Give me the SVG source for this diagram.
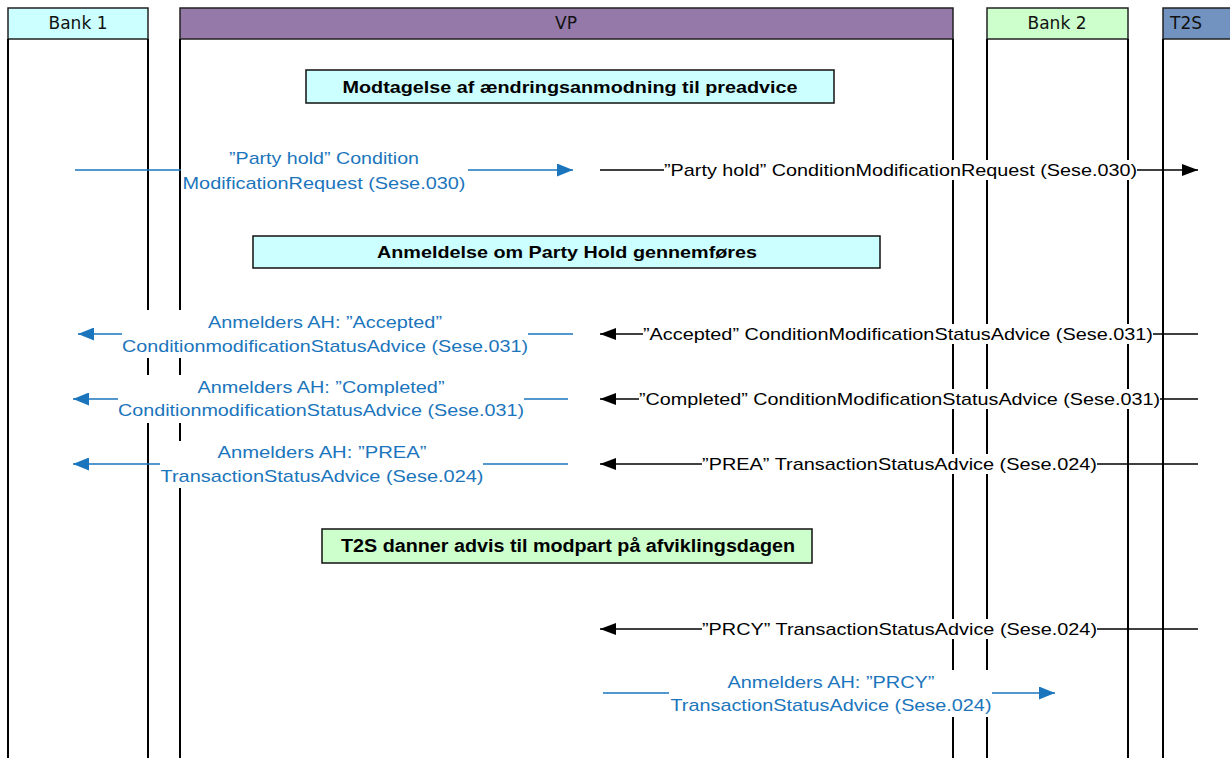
<svg xmlns="http://www.w3.org/2000/svg" width="1230" height="758" viewBox="0 0 1230 758">
<defs>
<style>
.lane{stroke:#000;stroke-width:2;fill:none}
.hdr{stroke:#222;stroke-width:1.5}
.htxt{font-family:"DejaVu Sans",Verdana,sans-serif;font-size:17px;fill:#111;text-anchor:middle;dominant-baseline:central}
.box{stroke:#111;stroke-width:1.5}
.btxt{font-family:"Liberation Sans",Arial,sans-serif;font-weight:bold;font-size:17px;fill:#000;text-anchor:middle;dominant-baseline:central}
.bg{fill:#fff}
.blk{stroke:#000;stroke-width:1.5;fill:none}
.blu{stroke:#1B75BC;stroke-width:1.5;fill:none}
.lt{font-family:"Liberation Sans",Arial,sans-serif;font-size:17px;fill:#000;dominant-baseline:central}
.lb{font-family:"Liberation Sans",Arial,sans-serif;font-size:17px;fill:#1B75BC;dominant-baseline:central}
</style>
<marker id="ab" viewBox="0 0 10 10" refX="10" refY="5" markerWidth="16" markerHeight="12" markerUnits="userSpaceOnUse" orient="auto" preserveAspectRatio="none"><path d="M0,0 L10,5 L0,10 Z" fill="#000"/></marker>
<marker id="au" viewBox="0 0 10 10" refX="10" refY="5" markerWidth="16" markerHeight="13" markerUnits="userSpaceOnUse" orient="auto" preserveAspectRatio="none"><path d="M0,0 L10,5 L0,10 Z" fill="#1B75BC"/></marker>
</defs>
<rect width="1230" height="758" fill="#fff"/>

<g id="lane-bank1">
<rect class="hdr" x="8" y="8" width="140" height="31" fill="#CCFFFF"/>
<text class="htxt" x="78" y="23">Bank 1</text>
<line class="lane" x1="8" y1="39" x2="8" y2="758"/>
<line class="lane" x1="148" y1="39" x2="148" y2="758"/>
</g>
<g id="lane-vp">
<rect class="hdr" x="180" y="8" width="773" height="31" fill="#9479A9"/>
<text class="htxt" x="566" y="23">VP</text>
<line class="lane" x1="180" y1="39" x2="180" y2="758"/>
<line class="lane" x1="953" y1="39" x2="953" y2="758"/>
</g>
<g id="lane-bank2">
<rect class="hdr" x="987" y="8" width="141" height="31" fill="#CCFFCC"/>
<text class="htxt" x="1057" y="23">Bank 2</text>
<line class="lane" x1="987" y1="39" x2="987" y2="758"/>
<line class="lane" x1="1128" y1="39" x2="1128" y2="758"/>
</g>
<g id="lane-t2s">
<rect class="hdr" x="1163" y="8" width="80" height="31" fill="#7293BF"/>
<text class="htxt" x="1186" y="23">T2S</text>
<line class="lane" x1="1163" y1="39" x2="1163" y2="758"/>
</g>

<g id="box-modtagelse">
<rect class="box" x="306" y="70" width="528" height="33" fill="#CCFFFF"/>
<text class="btxt" x="570" y="87" textLength="455" lengthAdjust="spacingAndGlyphs">Modtagelse af ændringsanmodning til preadvice</text>
</g>
<g id="box-anmeldelse">
<rect class="box" x="253" y="236" width="627" height="32" fill="#CCFFFF"/>
<text class="btxt" x="567" y="252" textLength="380" lengthAdjust="spacingAndGlyphs">Anmeldelse om Party Hold gennemføres</text>
</g>
<g id="box-t2s-danner">
<rect class="box" x="322" y="529" width="490" height="34" fill="#CCFFCC"/>
<text class="btxt" x="568" y="546" style="font-size:18px" textLength="454" lengthAdjust="spacingAndGlyphs">T2S danner advis til modpart på afviklingsdagen</text>
</g>

<g id="connectors">
<rect class="bg" x="181" y="146" width="287" height="48"/>
<rect class="bg" x="663" y="160" width="476" height="20"/>
<rect class="bg" x="120" y="310" width="410" height="48"/>
<rect class="bg" x="641" y="324" width="514" height="20"/>
<rect class="bg" x="116" y="375" width="410" height="48"/>
<rect class="bg" x="637" y="389" width="525" height="20"/>
<rect class="bg" x="158" y="441" width="327" height="47"/>
<rect class="bg" x="700" y="454" width="399" height="20"/>
<rect class="bg" x="700" y="619" width="399" height="20"/>
<rect class="bg" x="669" y="670" width="325" height="47"/>

<line class="blu" x1="75" y1="170" x2="181" y2="170"/>
<line class="blu" x1="468" y1="170" x2="573" y2="170" marker-end="url(#au)"/>
<text class="lb" x="324" y="158" text-anchor="middle" textLength="190" lengthAdjust="spacingAndGlyphs">”Party hold” Condition</text>
<text class="lb" x="324" y="183" text-anchor="middle" textLength="283" lengthAdjust="spacingAndGlyphs">ModificationRequest (Sese.030)</text>

<line class="blk" x1="600" y1="170" x2="664" y2="170"/>
<line class="blk" x1="1137" y1="170" x2="1198" y2="170" marker-end="url(#ab)"/>
<text class="lt" x="664" y="170" textLength="473" lengthAdjust="spacingAndGlyphs">”Party hold” ConditionModificationRequest (Sese.030)</text>

<line class="blk" x1="1198" y1="334" x2="1153" y2="334"/>
<line class="blk" x1="643" y1="334" x2="600" y2="334" marker-end="url(#ab)"/>
<text class="lt" x="643" y="334" textLength="510" lengthAdjust="spacingAndGlyphs">”Accepted” ConditionModificationStatusAdvice (Sese.031)</text>

<line class="blu" x1="573" y1="334" x2="528" y2="334"/>
<line class="blu" x1="122" y1="334" x2="78" y2="334" marker-end="url(#au)"/>
<text class="lb" x="325" y="322" text-anchor="middle" textLength="234" lengthAdjust="spacingAndGlyphs">Anmelders AH: ”Accepted”</text>
<text class="lb" x="325" y="346" text-anchor="middle" textLength="406" lengthAdjust="spacingAndGlyphs">ConditionmodificationStatusAdvice (Sese.031)</text>

<line class="blk" x1="1198" y1="399" x2="1160" y2="399"/>
<line class="blk" x1="639" y1="399" x2="600" y2="399" marker-end="url(#ab)"/>
<text class="lt" x="639" y="399" textLength="521" lengthAdjust="spacingAndGlyphs">”Completed” ConditionModificationStatusAdvice (Sese.031)</text>

<line class="blu" x1="568" y1="399" x2="524" y2="399"/>
<line class="blu" x1="118" y1="399" x2="73" y2="399" marker-end="url(#au)"/>
<text class="lb" x="321" y="387" text-anchor="middle" textLength="247" lengthAdjust="spacingAndGlyphs">Anmelders AH: ”Completed”</text>
<text class="lb" x="321" y="410" text-anchor="middle" textLength="406" lengthAdjust="spacingAndGlyphs">ConditionmodificationStatusAdvice (Sese.031)</text>

<line class="blk" x1="1198" y1="464" x2="1097" y2="464"/>
<line class="blk" x1="702" y1="464" x2="600" y2="464" marker-end="url(#ab)"/>
<text class="lt" x="702" y="464" textLength="395" lengthAdjust="spacingAndGlyphs">”PREA” TransactionStatusAdvice (Sese.024)</text>

<line class="blu" x1="568" y1="464" x2="483" y2="464"/>
<line class="blu" x1="160" y1="464" x2="73" y2="464" marker-end="url(#au)"/>
<text class="lb" x="322" y="452" text-anchor="middle" textLength="209" lengthAdjust="spacingAndGlyphs">Anmelders AH: ”PREA”</text>
<text class="lb" x="322" y="476" text-anchor="middle" textLength="323" lengthAdjust="spacingAndGlyphs">TransactionStatusAdvice (Sese.024)</text>

<line class="blk" x1="1198" y1="629" x2="1097" y2="629"/>
<line class="blk" x1="702" y1="629" x2="600" y2="629" marker-end="url(#ab)"/>
<text class="lt" x="702" y="629" textLength="395" lengthAdjust="spacingAndGlyphs">”PRCY” TransactionStatusAdvice (Sese.024)</text>

<line class="blu" x1="603" y1="693" x2="669" y2="693"/>
<line class="blu" x1="992" y1="693" x2="1055" y2="693" marker-end="url(#au)"/>
<text class="lb" x="831" y="682" text-anchor="middle" textLength="207" lengthAdjust="spacingAndGlyphs">Anmelders AH: ”PRCY”</text>
<text class="lb" x="831" y="705" text-anchor="middle" textLength="321" lengthAdjust="spacingAndGlyphs">TransactionStatusAdvice (Sese.024)</text>
</g>
</svg>
